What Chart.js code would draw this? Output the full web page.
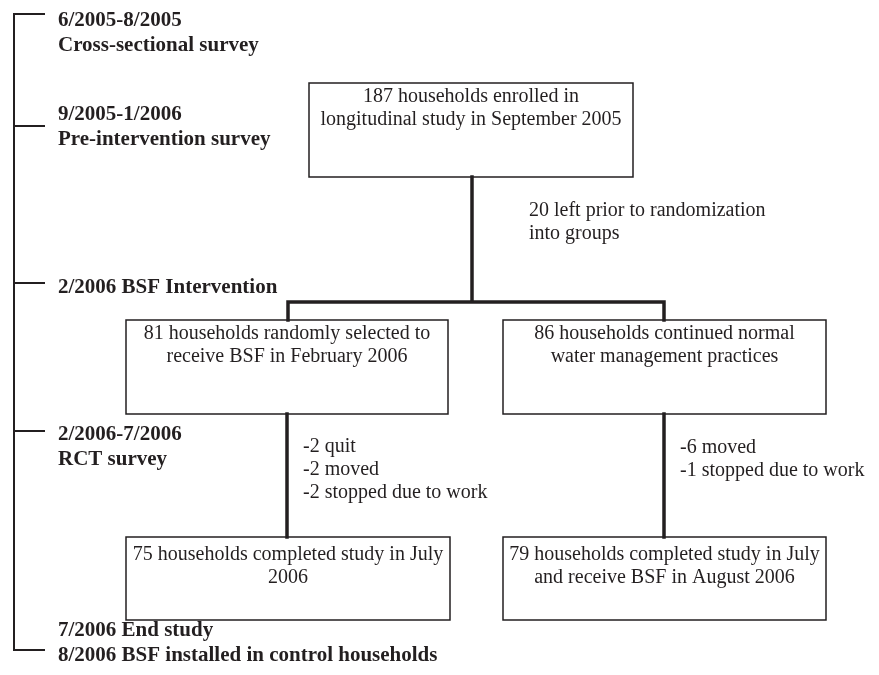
<!DOCTYPE html>
<html>
<head>
<meta charset="utf-8">
<script src="https://cdn.jsdelivr.net/npm/chart.js@4/dist/chart.umd.min.js"></script>
<style>
  html, body { margin: 0; padding: 0; background: #fff; }
  #wrap { width: 879px; height: 675px; }
</style>
</head>
<body>
<div id="wrap"><canvas id="flow" width="879" height="675"></canvas></div>
<script>
// timeline milestones (diagram units, y grows downward)
const milestoneY = [14, 126, 283, 431, 650];
const milestoneText = [
  ['6/2005-8/2005', 'Cross-sectional survey'],
  ['9/2005-1/2006', 'Pre-intervention survey'],
  ['2/2006 BSF Intervention'],
  ['2/2006-7/2006', 'RCT survey'],
  ['7/2006 End study', '8/2006 BSF installed in control households']
];
const milestoneTextY = [21, 115, 288, 435, 631];

// boxes
const boxLeft   = [309, 126, 503, 126, 503];
const boxRight  = [633, 448, 826, 450, 826];
const boxTop    = [83, 320, 320, 537, 537];
const boxBottom = [177, 414, 414, 620, 620];
const boxText = [
  ['187 households enrolled in', 'longitudinal study in September 2005'],
  ['81 households randomly selected to', 'receive BSF in February 2006'],
  ['86 households continued normal', 'water management practices'],
  ['75 households completed study in July', '2006'],
  ['79 households completed study in July', 'and receive BSF in August 2006']
];
const boxTextY = [97, 334, 334, 555, 555];

// drop-out notes beside the connectors
const noteX = [529, 303, 680];
const noteY = [211, 447, 448];
const noteText = [
  ['20 left prior to randomization', 'into groups'],
  ['-2 quit', '-2 moved', '-2 stopped due to work'],
  ['-6 moved', '-1 stopped due to work']
];

// connector paths (x, y pairs)
const connectors = [
  [[472, 177], [472, 302]],
  [[288, 320], [288, 302], [664, 302], [664, 320]],
  [[287, 414], [287, 537]],
  [[664, 414], [664, 537]]
];

const INK = '#231f20';

function timelinePoints(){
  const pts = [{x: 14, y: milestoneY[0]}, {x: 14, y: milestoneY[milestoneY.length - 1]}, {x: null, y: null}];
  milestoneY.forEach(y => { pts.push({x: 14, y}, {x: 44, y}, {x: null, y: null}); });
  return pts;
}

function boxPoints(){
  const pts = [];
  boxLeft.forEach((l, i) => {
    const r = boxRight[i], t = boxTop[i], b = boxBottom[i];
    pts.push({x: l, y: t}, {x: r, y: t}, {x: r, y: b}, {x: l, y: b}, {x: l, y: t}, {x: null, y: null});
  });
  return pts;
}

function connectorPoints(){
  const pts = [];
  connectors.forEach(path => {
    path.forEach(p => pts.push({x: p[0], y: p[1]}));
    pts.push({x: null, y: null});
  });
  return pts;
}

const textPlugin = {
  id: 'flowText',
  afterDatasetsDraw(chart){
    const {ctx, scales: {x, y}} = chart;
    ctx.save();
    ctx.fillStyle = INK;
    ctx.textBaseline = 'middle';

    ctx.font = 'bold 21px "Liberation Serif", "Times New Roman", serif';
    ctx.textAlign = 'left';
    milestoneText.forEach((lines, i) => {
      lines.forEach((s, k) => ctx.fillText(s, x.getPixelForValue(58), y.getPixelForValue(milestoneTextY[i] + k * 24.5)));
    });

    ctx.font = '20px "Liberation Serif", "Times New Roman", serif';
    ctx.textAlign = 'center';
    boxText.forEach((lines, i) => {
      const cx = (boxLeft[i] + boxRight[i]) / 2;
      lines.forEach((s, k) => ctx.fillText(s, x.getPixelForValue(cx), y.getPixelForValue(boxTextY[i] + k * 22.5)));
    });

    ctx.textAlign = 'left';
    noteText.forEach((lines, i) => {
      lines.forEach((s, k) => ctx.fillText(s, x.getPixelForValue(noteX[i]), y.getPixelForValue(noteY[i] + k * 23)));
    });
    ctx.restore();
  }
};

const lineDefaults = {showLine: true, spanGaps: false, pointRadius: 0, borderColor: INK, fill: false, tension: 0, borderCapStyle: 'square', borderJoinStyle: 'miter'};

new Chart(document.getElementById('flow'), {
  type: 'scatter',
  data: {
    datasets: [
      Object.assign({label: 'timeline', data: timelinePoints(), borderWidth: 2}, lineDefaults),
      Object.assign({label: 'boxes', data: boxPoints(), borderWidth: 1.5}, lineDefaults),
      Object.assign({label: 'connectors', data: connectorPoints(), borderWidth: 3.5}, lineDefaults)
    ]
  },
  options: {
    responsive: false,
    animation: false,
    devicePixelRatio: 1,
    layout: {padding: 0},
    plugins: {legend: {display: false}, tooltip: {enabled: false}},
    scales: {
      x: {type: 'linear', min: 0, max: 879, display: false},
      y: {type: 'linear', min: 0, max: 675, reverse: true, display: false}
    }
  },
  plugins: [textPlugin]
});
</script>
</body>
</html>
